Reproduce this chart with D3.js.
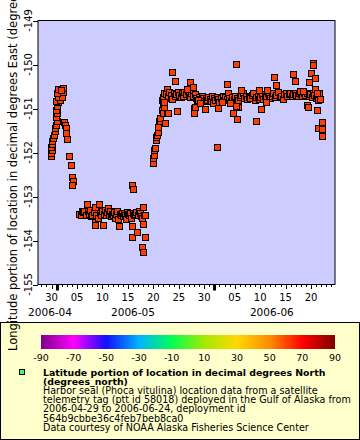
<!DOCTYPE html>
<html>
<head>
<meta charset="utf-8">
<script src="https://cdn.jsdelivr.net/npm/d3@7"></script>
<style>
body { margin: 0; background: #fff; }
svg { display: block; font-family: "DejaVu Sans", sans-serif; }
</style>
</head>
<body>
<svg id="chart" width="360" height="440"></svg>
<script>
// seal fixes: [month, day of month (fractional), longitude deg E]
const fixes = [
    [4,29.9,-152.07],[4,29.9,-152.01],[4,30.1,-151.94],[4,29.9,-151.87],[4,30.1,-151.80],[4,30.1,-151.73],
    [4,30.3,-151.67],[4,30.5,-151.60],[4,30.7,-151.51],[4,30.7,-151.44],[4,30.9,-151.37],[5,1.1,-151.28],
    [4,30.9,-151.19],[5,1.1,-151.10],[4,30.9,-151.03],[5,1.1,-150.94],[5,1.3,-150.85],[4,30.9,-150.83],
    [5,1.7,-150.80],[5,1.3,-150.74],[5,2.0,-150.74],[5,1.1,-150.64],[5,2.2,-150.62],[5,1.3,-150.55],
    [5,2.2,-150.53],[5,1.9,-150.58],
    [5,2.4,-151.30],[5,2.6,-151.37],[5,2.8,-151.44],[5,2.8,-151.55],[5,3.0,-151.69],[5,3.4,-152.07],
    [5,3.8,-152.28],[5,4.0,-152.55],[5,4.2,-152.64],[5,4.0,-152.73],
    [5,5.4,-153.39],[5,5.7,-153.41],[5,6.0,-153.34],[5,6.2,-153.36],[5,6.4,-153.34],[5,6.7,-153.43],
    [5,6.97,-153.16],[5,7.1,-153.34],[5,7.3,-153.39],[5,7.6,-153.30],[5,7.8,-153.45],[5,8.0,-153.43],
    [5,8.3,-153.36],[5,8.54,-153.25],[5,8.54,-153.57],[5,8.6,-153.64],[5,8.8,-153.41],[5,9.13,-153.48],
    [5,9.33,-153.16],[5,9.5,-153.37],[5,9.7,-153.43],[5,9.9,-153.34],[5,10.1,-153.64],[5,10.3,-153.39],
    [5,10.5,-153.30],[5,10.7,-153.43],[5,10.9,-153.36],[5,11.1,-153.27],[5,11.3,-153.41],[5,11.5,-153.34],
    [5,11.7,-153.45],[5,11.9,-153.39],[5,12.1,-153.43],[5,12.3,-153.36],[5,12.5,-153.48],[5,12.7,-153.39],
    [5,12.9,-153.34],[5,13.06,-153.52],[5,13.26,-153.66],[5,13.45,-153.39],[5,13.7,-153.41],[5,13.85,-153.37],
    [5,14.1,-153.45],[5,14.24,-153.37],[5,14.5,-153.41],[5,14.63,-153.52],[5,14.8,-153.36],[5,15.03,-153.39],
    [5,15.2,-153.43],[5,15.42,-153.37],[5,15.6,-153.48],[5,15.81,-153.66],[5,15.81,-152.73],[5,16.01,-152.82],
    [5,16.01,-153.37],[5,16.2,-153.43],[5,15.81,-153.93],[5,16.4,-153.39],[5,16.6,-153.36],[5,16.8,-153.80],
    [5,16.9,-153.41],[5,17.1,-153.34],[5,17.39,-153.37],[5,17.6,-153.45],[5,17.78,-153.48],[5,17.78,-154.14],
    [5,17.98,-153.23],[5,17.98,-153.62],[5,17.98,-154.25],[5,18.2,-153.41],[5,18.37,-153.41],[5,18.37,-153.93],
    [5,19.94,-152.23],[5,19.94,-152.12],[5,20.14,-152.05],[5,20.14,-151.94],[5,20.33,-151.89],[5,20.53,-151.71],
    [5,20.53,-151.64],[5,20.73,-151.60],[5,20.92,-151.53],[5,20.92,-151.42],[5,21.12,-151.28],[5,21.32,-151.28],
    [5,21.32,-151.21],[5,21.71,-151.03],[5,21.71,-150.80],[5,21.91,-151.10],[5,21.91,-150.87],[5,21.91,-150.74],
    [5,22.10,-150.96],[5,22.10,-150.85],[5,22.10,-150.64],[5,22.30,-151.33],[5,22.69,-151.10],[5,22.89,-151.10],
    [5,22.69,-150.55],[5,23.28,-150.64],[5,23.48,-150.76],[5,23.68,-150.17],[5,24.27,-150.37],[5,24.27,-150.64],
    [5,24.66,-151.05],[5,25.05,-150.74],[5,25.25,-150.64],
    [5,22.4,-150.67],[5,22.8,-150.71],[5,23.0,-150.62],[5,23.4,-150.69],[5,23.7,-150.78],[5,24.0,-150.64],
    [5,24.3,-150.71],[5,24.5,-150.67],[5,24.8,-150.62],[5,25.0,-150.69],[5,25.4,-150.74],[5,25.6,-150.64],
    [5,25.9,-150.71],[5,26.1,-150.62],[5,26.4,-150.67],[5,26.8,-150.60],[5,27.0,-150.69],[5,27.3,-150.74],
    [5,27.5,-150.64],[5,27.8,-150.71],[5,28.1,-150.67],[5,28.4,-150.76],[5,28.6,-150.80],[5,28.9,-150.74],
    [5,29.2,-150.78],[5,29.5,-150.71],[5,29.7,-150.76],[5,30.0,-150.83],[5,30.3,-150.76],[5,30.6,-150.80],
    [5,30.8,-150.74],[5,31.1,-150.78],[5,31.4,-150.83],[5,31.6,-150.71],[5,31.9,-150.76],
    [5,27.21,-150.40],[5,27.80,-150.51],[5,26.62,-150.55],[5,28.0,-150.99],[5,28.0,-151.10],[5,28.2,-150.96],
    [5,30.16,-151.01],[5,28.79,-150.80],[5,29.18,-150.87],[5,31.74,-150.87],
    [6,1.2,-150.80],[6,1.5,-150.74],[6,1.8,-150.78],[6,2.0,-150.85],[6,2.3,-150.76],[6,2.6,-150.71],
    [6,2.9,-150.80],[6,3.1,-150.74],[6,3.4,-150.78],[6,3.7,-150.64],[6,3.9,-150.76],[6,4.2,-150.83],
    [6,4.5,-150.74],[6,4.8,-150.78],[6,5.1,-150.71],[6,5.4,-150.76],[6,5.7,-150.80],[6,6.0,-150.74],
    [6,6.3,-150.69],[6,6.6,-150.64],[6,6.9,-150.76],[6,7.2,-150.71],[6,7.5,-150.78],[6,7.8,-150.74],
    [6,8.0,-150.76],[6,8.3,-150.69],[6,8.6,-150.64],[6,8.9,-150.80],[6,9.2,-150.74],[6,9.5,-150.71],
    [6,9.8,-150.78],[6,10.0,-150.74],[6,10.3,-150.67],[6,10.6,-150.78],[6,10.9,-150.71],[6,11.2,-150.74],
    [6,11.5,-150.64],[6,11.7,-150.69],[6,12.0,-150.76],[6,12.3,-150.71],[6,12.6,-150.64],[6,12.9,-150.74],
    [6,13.2,-150.69],[6,13.5,-150.62],[6,13.8,-150.74],[6,14.1,-150.71],[6,14.4,-150.78],[6,14.7,-150.67],
    [6,15.0,-150.64],[6,15.3,-150.71],[6,15.6,-150.67],[6,15.9,-150.64],[6,16.2,-150.71],[6,16.5,-150.67],
    [6,16.8,-150.64],[6,17.1,-150.69],[6,17.4,-150.71],[6,17.7,-150.64],[6,18.0,-150.67],[6,18.3,-150.71],
    [6,18.6,-150.64],[6,18.9,-150.69],[6,19.2,-150.64],[6,19.5,-150.71],[6,19.8,-150.67],[6,20.1,-150.74],
    [6,20.4,-150.64],[6,20.6,-150.69],[6,20.9,-150.76],[6,21.1,-150.71],[6,21.4,-150.80],[6,21.6,-150.64],
    [6,3.49,-150.44],[6,5.26,-149.99],[6,6.24,-150.58],[6,9.78,-150.58],[6,11.35,-150.58],[6,12.73,-150.28],
    [6,13.12,-150.46],[6,16.46,-150.21],[6,16.85,-150.37],[6,20.0,-150.19],[6,20.39,-149.96],[6,20.39,-150.01],
    [6,19.61,-150.40],[6,20.79,-150.30],[6,20.79,-150.55],[6,17.84,-150.60],[6,18.43,-150.60],
    [6,1.72,-150.99],[6,4.67,-151.10],[6,5.45,-151.23],[6,5.65,-150.96],[6,5.26,-150.94],[6,1.52,-151.87],
    [6,9.19,-151.28],[6,10.17,-151.01],[6,19.21,-150.92],[6,19.41,-150.96],[6,21.18,-151.03],[6,4.08,-150.87],
    [6,11.15,-150.85],[6,2.50,-150.85],[6,21.77,-150.78],[6,21.18,-150.64],
    [6,22.16,-151.30],[6,21.38,-151.44],[6,22.16,-151.46],[6,22.16,-151.62]
];

const lonTicks = [-155, -154, -153, -152, -151, -150, -149];
const dayTicks = [[4,30],[5,5],[5,10],[5,15],[5,20],[5,25],[5,30],[6,5],[6,10],[6,15],[6,20]];
const monthStarts = [[5,1],[6,1]];
const monthLabels = ["2006-04", "2006-05", "2006-06"];
const monthLabelAt = [[4,29.7],[5,16.0],[6,12.3]];

const paletteStops = [-90, -70, -50, -30, -10, 10, 30, 50, 70, 90];
const paletteColors = ["#80008a", "#ff00ff", "#1010ff", "#00b4ff", "#00ff55", "#a4ea00", "#ffd800", "#ff8c00", "#ff0000", "#800000"];

const yTitle = "Longitude portion of location in decimal degrees East (degrees_east)";
const legendTitle = ["Latitude portion of location in decimal degrees North", "(degrees_north)"];
const legendLines = [
    "Harbor seal (Phoca vitulina) location data from a satellite",
    "telemetry tag (ptt id 58018) deployed in the Gulf of Alaska from",
    "2006-04-29 to 2006-06-24, deployment id",
    "564b9cbbe36c4feb7beb8ca0",
    "Data courtesy of NOAA Alaska Fisheries Science Center"
];

function toDate(m, d) {
    return new Date(Date.UTC(2006, m - 1, 1) + (d - 1) * 864e5);
}

const svg = d3.select("#chart");
const plotL = 38, plotR = 335, plotT = 20.5, plotB = 284.5;

const x = d3.scaleUtc()
    .domain([Date.UTC(2006, 3, 27, 8), Date.UTC(2006, 5, 24, 17)])
    .range([plotL, plotR]);
const y = d3.scaleLinear().domain([-155, -149]).range([plotB, plotT]);

svg.append("rect")
    .attr("x", plotL).attr("y", plotT)
    .attr("width", plotR - plotL).attr("height", plotB - plotT)
    .attr("fill", "#ccccff");

// markers
svg.append("g").selectAll("rect")
    .data(fixes)
    .join("rect")
    .attr("x", d => Math.round(x(toDate(d[0], d[1]))) - 2.5)
    .attr("y", d => Math.round(y(d[2])) - 2.5)
    .attr("width", 6).attr("height", 6)
    .attr("fill", "#ff3d00")
    .attr("stroke", "#000").attr("stroke-width", 1);

svg.append("rect")
    .attr("x", plotL).attr("y", plotT)
    .attr("width", plotR - plotL).attr("height", plotB - plotT)
    .attr("fill", "none").attr("stroke", "#000").attr("stroke-width", 1);

// x axis: day minor ticks, 5-day majors, month starts in bold
let xg = svg.append("g");
xg.selectAll("line.minor")
    .data(d3.utcDay.range(x.domain()[0], x.domain()[1]))
    .join("line")
    .attr("x1", d => Math.round(x(d)) + 0.5).attr("x2", d => Math.round(x(d)) + 0.5)
    .attr("y1", plotB).attr("y2", plotB + 2.5)
    .attr("stroke", "#000");
xg.selectAll("line.major")
    .data(dayTicks)
    .join("line")
    .attr("x1", d => Math.round(x(toDate(d[0], d[1]))) + 0.5)
    .attr("x2", d => Math.round(x(toDate(d[0], d[1]))) + 0.5)
    .attr("y1", plotB).attr("y2", plotB + 4.5)
    .attr("stroke", "#000");
xg.selectAll("rect.month")
    .data(monthStarts)
    .join("rect")
    .attr("x", d => Math.round(x(toDate(d[0], d[1]))) - 1)
    .attr("y", plotB).attr("width", 3).attr("height", 6)
    .attr("fill", "#000");
xg.selectAll("text.day")
    .data(dayTicks)
    .join("text")
    .attr("x", d => x(toDate(d[0], d[1])))
    .attr("y", 301)
    .attr("text-anchor", "middle")
    .attr("font-size", 10)
    .text(d => d3.utcFormat("%d")(toDate(d[0], d[1])));
xg.selectAll("text.month")
    .data(monthLabels)
    .join("text")
    .attr("x", (d, i) => x(toDate(monthLabelAt[i][0], monthLabelAt[i][1])))
    .attr("y", 316)
    .attr("text-anchor", "middle")
    .attr("font-size", 10.5)
    .text(d => d);

// y axis
let yg = svg.append("g");
yg.selectAll("line")
    .data(lonTicks)
    .join("line")
    .attr("x1", plotL - 5).attr("x2", plotL)
    .attr("y1", d => Math.round(y(d)) + 0.5).attr("y2", d => Math.round(y(d)) + 0.5)
    .attr("stroke", "#000");
yg.selectAll("text")
    .data(lonTicks)
    .join("text")
    .attr("transform", d => `translate(32,${y(d)}) rotate(-90)`)
    .attr("text-anchor", "middle")
    .attr("font-size", 10)
    .text(d => d);

// legend box
svg.append("rect")
    .attr("x", 0.5).attr("y", 322.5)
    .attr("width", 359).attr("height", 117)
    .attr("fill", "#ffffcc").attr("stroke", "#000");

const cx = d3.scaleLinear().domain([-90, 90]).range([41, 335]);
const grad = svg.append("defs").append("linearGradient").attr("id", "pal");
grad.selectAll("stop")
    .data(paletteStops)
    .join("stop")
    .attr("offset", d => (d + 90) / 180)
    .attr("stop-color", (d, i) => paletteColors[i]);
svg.append("rect")
    .attr("x", 41).attr("y", 335)
    .attr("width", 294).attr("height", 14)
    .attr("fill", "url(#pal)");
svg.append("g").selectAll("text")
    .data(paletteStops)
    .join("text")
    .attr("x", d => cx(d)).attr("y", 361)
    .attr("text-anchor", "middle")
    .attr("font-size", 9.5)
    .text(d => d);

svg.append("rect")
    .attr("x", 19.5).attr("y", 369.5)
    .attr("width", 5).attr("height", 5)
    .attr("fill", "#44ff44").attr("stroke", "#000");

let lg = svg.append("g");
legendTitle.forEach((t, i) => {
    lg.append("text").attr("x", 43).attr("y", 375.5 + i * 9.2)
        .attr("font-size", 9.4).attr("font-weight", "bold").text(t);
});
legendLines.forEach((t, i) => {
    lg.append("text").attr("x", 43).attr("y", 394 + i * 9.2)
        .attr("font-size", 9.6).text(t);
});

// axis title is drawn last, it runs over the legend
svg.append("text")
    .attr("transform", `translate(17,${(plotT + plotB) / 2}) rotate(-90)`)
    .attr("text-anchor", "middle")
    .attr("font-size", 11.5)
    .text(yTitle);
</script>
</body>
</html>
